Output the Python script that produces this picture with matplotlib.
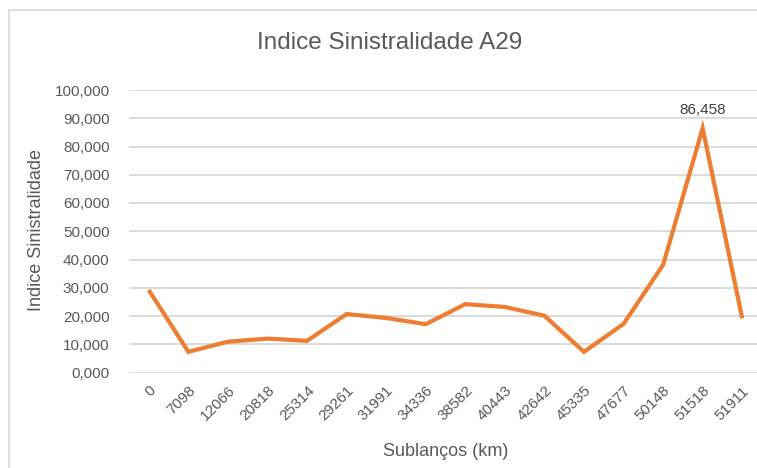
import matplotlib
matplotlib.use("Agg")
import matplotlib.pyplot as plt
from matplotlib.patches import Rectangle

sublancos = ["0", "7098", "12066", "20818", "25314", "29261", "31991", "34336",
             "38582", "40443", "42642", "45335", "47677", "50148", "51518", "51911"]
indice = [29.2, 7.3, 10.9, 12.0, 11.2, 20.7, 19.3, 17.1,
          24.2, 23.2, 20.1, 7.3, 17.2, 38.1, 86.458, 19.2]
y_ticks = [0, 10, 20, 30, 40, 50, 60, 70, 80, 90, 100]

plt.rcParams['font.family'] = ["Liberation Sans", "DejaVu Sans"]

fig = plt.figure(figsize=(7.57, 4.68), dpi=100)
W, H = 757, 468
# plot area (pixels): x 129..762, y 90..372.5
ax = fig.add_axes([129 / W, (H - 372.5) / H, (762 - 129) / W, (372.5 - 90) / H])

# chart border, partly cropped
fig.patches.append(Rectangle((9 / W, -0.1), 1.0, (H - 10) / H + 0.1,
                             transform=fig.transFigure, fill=False,
                             edgecolor="#d9d9d9", linewidth=1.2))

x = list(range(len(sublancos)))
ax.plot(x, indice, color="#ED7D31", linewidth=3, solid_capstyle="butt",
        solid_joinstyle="miter")

ax.set_xlim(-0.5, len(sublancos) - 0.5)
ax.set_ylim(0, 100)
ax.set_yticks(y_ticks)
ax.set_yticklabels([f"{v:.3f}".replace(".", ",") for v in y_ticks])
ax.set_xticks(x)
ax.set_xticklabels(sublancos, rotation=45, ha="right", va="top",
                   rotation_mode="anchor")

ax.grid(axis="y", color="#d9d9d9", linewidth=1.3)
ax.set_axisbelow(True)
for s in ax.spines.values():
    s.set_visible(False)
ax.tick_params(axis="both", length=0, colors="#595959", labelsize=11)
ax.tick_params(axis="y", pad=14)
ax.tick_params(axis="x", pad=8)

pk = indice.index(max(indice))
ax.annotate(f"{indice[pk]:.3f}".replace(".", ","), (pk, indice[pk]),
            xytext=(0, 8), textcoords="offset points", ha="center", va="bottom",
            color="#404040", fontsize=11)

fig.text(390 / W, 1 - 43 / H, "Indice Sinistralidade A29", ha="center", va="center",
         fontsize=17.5, color="#595959")
fig.text(37 / W, 1 - 230 / H, "Indice Sinistralidade", ha="center", va="center",
         rotation=90, fontsize=13, color="#595959")
fig.text(446 / W, 1 - 451 / H, "Sublanços (km)", ha="center", va="center",
         fontsize=13, color="#595959")

fig.savefig("out.png", dpi=100)
